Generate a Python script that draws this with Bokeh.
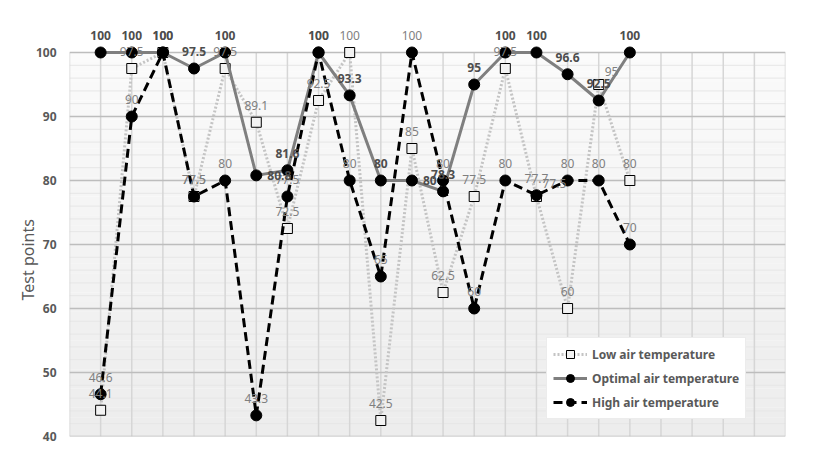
import numpy as np
from bokeh.plotting import figure
from bokeh.core.properties import value
from bokeh.models import (ColumnDataSource, Range1d, FixedTicker, LabelSet,
                          Legend, LegendItem, Title)
from bokeh.embed import file_html
from bokeh.resources import INLINE

# Sample number on the horizontal axis
samples = list(range(1, 19))

# Test points per sample for each air temperature condition
low_temp = [44.1, 97.5, 100, 77.5, 97.5, 89.1, 72.5, 92.5, 100,
            42.5, 85, 62.5, 77.5, 97.5, 77.5, 60, 95, 80]
optimal_temp = [100, 100, 100, 97.5, 100, 80.8, 81.6, 100, 93.3,
                80, 80, 78.3, 95, 100, 100, 96.6, 92.5, 100]
high_temp = [46.6, 90, 100, 77.5, 80, 43.3, 77.5, 100, 80,
             65, 100, 80, 60, 80, 77.7, 80, 80, 70]

y_ticks = [40, 50, 60, 70, 80, 90, 100]

FONT = "Noto Sans"
X0, X1 = 0, 23          # category slots shown on the axis
Y0, Y1 = 40, 100        # value axis
Y_TOP = 105             # head room for the value labels above 100

p = figure(width=813, height=454,
           x_range=Range1d(X0, X1), y_range=Range1d(Y0, Y_TOP),
           output_backend="svg", toolbar_location=None,
           min_border_left=69, min_border_right=28,
           min_border_top=20, min_border_bottom=18)
p.xaxis.visible = False
p.xgrid.visible = False
p.ygrid.visible = False
p.outline_line_color = None
p.background_fill_color = "white"
p.border_fill_color = "white"

# plot area: soft vertical gradient, light at the top
n_bands = 40
edges = np.linspace(Y0, Y1, n_bands + 1)
shades = np.linspace(0xed, 0xfb, n_bands)
band_colors = ["#%02x%02x%02x" % (int(s), int(s), int(s)) for s in shades]
p.quad(left=X0, right=X1, bottom=edges[:-1], top=edges[1:],
       fill_color=band_colors, line_color=None)

# grid: faint minor rows, vertical category lines, major rows
minor_rows = [v for v in np.arange(Y0, Y1 + 0.1, 2) if v % 10 != 0]
p.segment(x0=X0, x1=X1, y0=minor_rows, y1=minor_rows,
          line_color="#e6e6e6", line_width=1)
cols = list(np.arange(X0, X1 + 1))
p.segment(x0=cols, x1=cols, y0=Y0, y1=Y1, line_color="#d6d6d6", line_width=1.5)
p.segment(x0=X0, x1=X1, y0=y_ticks, y1=y_ticks, line_color="#bdbdbd", line_width=1.5)

# value axis
ax = p.yaxis[0]
ax.ticker = FixedTicker(ticks=y_ticks)
ax.axis_line_color = None
ax.major_tick_line_color = None
ax.minor_tick_line_color = None
ax.major_tick_out = 0
ax.major_tick_in = 0
ax.major_label_standoff = 13
ax.major_label_text_font = FONT
ax.major_label_text_font_size = "12px"
ax.major_label_text_font_style = "bold"
ax.major_label_text_color = "#595959"

# axis title, starting from the lower part of the frame
y_title = Title(text="Test points", align="left", offset=136, standoff=-12,
                text_font=FONT, text_font_size="16px", text_font_style="normal",
                text_color="#595959")
p.add_layout(y_title, "left")

src = ColumnDataSource(dict(x=samples, low=low_temp, opt=optimal_temp, high=high_temp))

low_line = p.line("x", "low", source=src, line_color="#c4c4c4", line_width=3,
                  line_dash="2 2")
low_pts = p.scatter("x", "low", source=src, marker="square", size=10,
                    fill_color="#f2f2f2", line_color="black", line_width=1)
opt_line = p.line("x", "opt", source=src, line_color="#7f7f7f", line_width=3)
opt_pts = p.scatter("x", "opt", source=src, marker="circle", size=11,
                    fill_color="black", line_color="black")
high_line = p.line("x", "high", source=src, line_color="black", line_width=3,
                   line_dash="9 5")
high_pts = p.scatter("x", "high", source=src, marker="circle", size=11,
                     fill_color="black", line_color="black")

# value labels: above the point unless listed otherwise
PLACEMENT = {
    "above": dict(x_offset=0, y_offset=17, text_align="center"),
    "right": dict(x_offset=11, y_offset=0, text_align="left"),
    "upright": dict(x_offset=6, y_offset=13, text_align="left"),
}
low_label_pos = {14: "upright", 16: "upright"}
opt_label_pos = {5: "right", 10: "right"}
high_label_pos = {}


def add_labels(values, positions, color, style):
    groups = {}
    for i, v in enumerate(values):
        key = positions.get(i, "above")
        g = groups.setdefault(key, dict(x=[], y=[], t=[]))
        g["x"].append(samples[i])
        g["y"].append(v)
        g["t"].append(f"{v:g}")
    for key, g in groups.items():
        ls = LabelSet(x="x", y="y", text="t", source=ColumnDataSource(g),
                      text_font=value(FONT), text_font_size=value("12px"),
                      text_font_style=value(style), text_color=value(color),
                      text_baseline=value("middle"), **PLACEMENT[key])
        p.add_layout(ls)


add_labels(low_temp, low_label_pos, "#7f7f7f", "normal")
add_labels(high_temp, high_label_pos, "#7f7f7f", "normal")
add_labels(optimal_temp, opt_label_pos, "#4d4d4d", "bold")

legend = Legend(items=[
    LegendItem(label="Low air temperature", renderers=[low_line, low_pts]),
    LegendItem(label="Optimal air temperature", renderers=[opt_line, opt_pts]),
    LegendItem(label="High air temperature", renderers=[high_line, high_pts]),
], location=(477, 17), orientation="vertical")
legend.border_line_color = "#d9d9d9"
legend.border_line_width = 1
legend.background_fill_color = "white"
legend.background_fill_alpha = 1
legend.padding = 6
legend.spacing = 4
legend.margin = 0
legend.glyph_width = 34
legend.glyph_height = 20
legend.label_height = 20
legend.label_standoff = 5
legend.label_text_font = FONT
legend.label_text_font_size = "12px"
legend.label_text_font_style = "bold"
legend.label_text_color = "#595959"
p.add_layout(legend)

open("out.html", "w").write(file_html(p, INLINE))
